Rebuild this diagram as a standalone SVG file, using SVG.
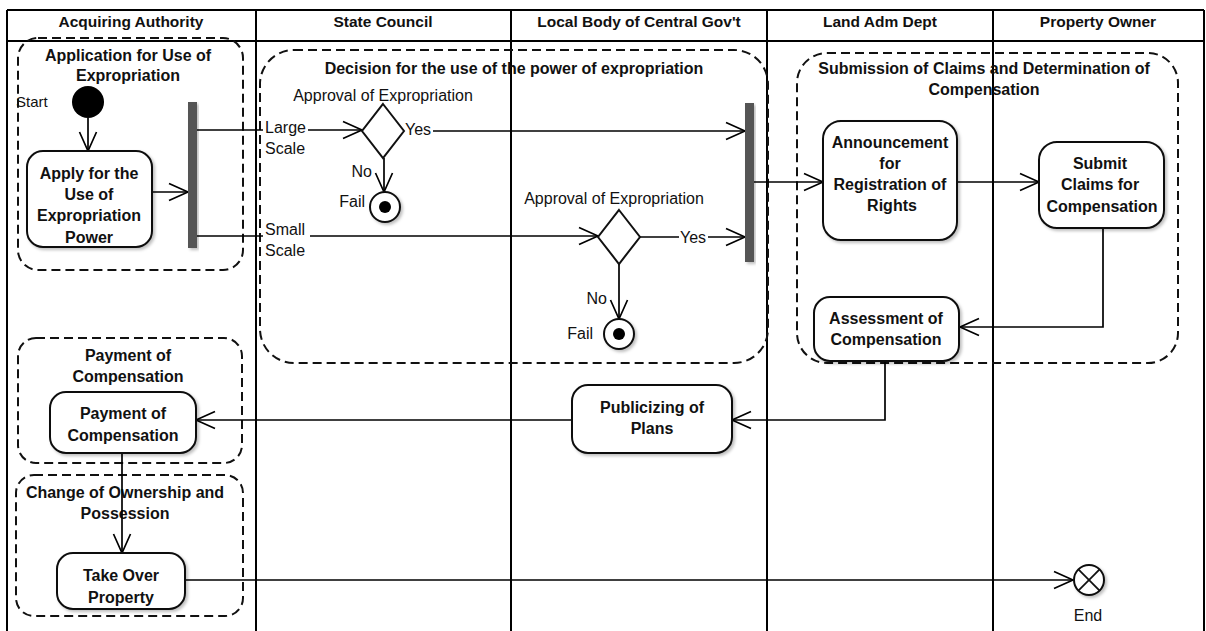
<svg xmlns="http://www.w3.org/2000/svg" width="1206" height="631" viewBox="0 0 1206 631">
  <style>
    .lane { stroke: #000; stroke-width: 2; fill: none; }
    .hdr { font: bold 15.5px "Liberation Sans", Arial, sans-serif; text-anchor: middle; fill: #111; }
    .grp { fill: none; stroke: #111; stroke-width: 2; stroke-dasharray: 9 5; }
    .gtitle { font: bold 16px "Liberation Sans", Arial, sans-serif; text-anchor: middle; fill: #111; }
    .act { fill: #fff; stroke: #111; stroke-width: 2; }
    .atext { font: bold 16px "Liberation Sans", Arial, sans-serif; text-anchor: middle; fill: #111; }
    .lbl { font: 16px "Liberation Sans", Arial, sans-serif; fill: #111; }
    .edge { fill: none; stroke: #000; stroke-width: 1.7; }
    .bar { fill: #555; }
  </style>
  <defs>
    <marker id="arrow" markerUnits="userSpaceOnUse" markerWidth="22" markerHeight="20" viewBox="0 0 22 20" refX="20" refY="10" orient="auto">
      <path d="M1,1.5 L20,10 L1,18.5" fill="none" stroke="#000" stroke-width="1.7"/>
    </marker>
    <filter id="shadow" x="-10%" y="-10%" width="130%" height="130%">
      <feDropShadow dx="2" dy="2" stdDeviation="1.5" flood-color="#000" flood-opacity="0.25"/>
    </filter>
  </defs>

  <rect width="1206" height="631" fill="#fff"/>

  <!-- swimlanes -->
  <g id="lanes">
    <line class="lane" x1="7" y1="10" x2="1204" y2="10"/>
    <line class="lane" x1="7" y1="41" x2="1204" y2="41"/>
    <line class="lane" x1="7" y1="10" x2="7" y2="631"/>
    <line class="lane" x1="256" y1="10" x2="256" y2="631"/>
    <line class="lane" x1="511" y1="10" x2="511" y2="631"/>
    <line class="lane" x1="767" y1="10" x2="767" y2="631"/>
    <line class="lane" x1="993" y1="10" x2="993" y2="631"/>
    <line class="lane" x1="1204" y1="10" x2="1204" y2="631"/>
    <text class="hdr" x="131" y="27">Acquiring Authority</text>
    <text class="hdr" x="383" y="27">State Council</text>
    <text class="hdr" x="639" y="27">Local Body of Central Gov't</text>
    <text class="hdr" x="880" y="27">Land Adm Dept</text>
    <text class="hdr" x="1098" y="27">Property Owner</text>
  </g>

  <!-- activity partitions (dashed groups) -->
  <g id="group-application">
    <rect class="grp" x="18" y="38" width="225" height="232" rx="20"/>
    <text class="gtitle" x="128" y="60.5">Application for Use of</text>
    <text class="gtitle" x="128" y="80.5">Expropriation</text>
  </g>
  <g id="group-decision">
    <rect class="grp" x="260" y="50" width="508" height="313" rx="34"/>
    <text class="gtitle" x="514" y="73.5">Decision for the use of the power of expropriation</text>
  </g>
  <g id="group-claims">
    <rect class="grp" x="797" y="53" width="381" height="310" rx="30"/>
    <text class="gtitle" x="984" y="73.5">Submission of Claims and Determination of</text>
    <text class="gtitle" x="984" y="94.5">Compensation</text>
  </g>
  <g id="group-payment">
    <rect class="grp" x="18" y="338" width="224" height="125" rx="18"/>
    <text class="gtitle" x="128" y="360.5">Payment of</text>
    <text class="gtitle" x="128" y="381.5">Compensation</text>
  </g>
  <g id="group-ownership">
    <rect class="grp" x="16" y="475" width="227" height="141" rx="18"/>
    <text class="gtitle" x="125" y="497.5">Change of Ownership and</text>
    <text class="gtitle" x="125" y="518.5">Possession</text>
  </g>

  <!-- connectors -->
  <g id="connectors">
    <line class="edge" x1="88" y1="118" x2="88" y2="151" marker-end="url(#arrow)"/>
    <line class="edge" x1="152" y1="192" x2="188" y2="192" marker-end="url(#arrow)"/>
    <!-- large scale branch -->
    <line class="edge" x1="197" y1="130" x2="263" y2="130"/>
    <line class="edge" x1="308" y1="130" x2="362" y2="130" marker-end="url(#arrow)"/>
    <!-- small scale branch -->
    <line class="edge" x1="197" y1="236" x2="263" y2="236"/>
    <line class="edge" x1="310" y1="236" x2="598" y2="236" marker-end="url(#arrow)"/>
    <!-- decision 1 -->
    <line class="edge" x1="433" y1="131" x2="745" y2="131" marker-end="url(#arrow)"/>
    <line class="edge" x1="384" y1="158" x2="384" y2="192" marker-end="url(#arrow)"/>
    <!-- decision 2 -->
    <line class="edge" x1="640" y1="237" x2="679" y2="237"/>
    <line class="edge" x1="708" y1="237" x2="745" y2="237" marker-end="url(#arrow)"/>
    <line class="edge" x1="619" y1="264" x2="619" y2="319" marker-end="url(#arrow)"/>
    <!-- land adm / owner flow -->
    <line class="edge" x1="754" y1="182" x2="823" y2="182" marker-end="url(#arrow)"/>
    <line class="edge" x1="957" y1="182" x2="1039" y2="182" marker-end="url(#arrow)"/>
    <polyline class="edge" points="1103,228 1103,327 960,327" marker-end="url(#arrow)"/>
    <polyline class="edge" points="885,361 885,420 732,420" marker-end="url(#arrow)"/>
    <line class="edge" x1="572" y1="420" x2="196" y2="420" marker-end="url(#arrow)"/>
    <line class="edge" x1="122" y1="453" x2="122" y2="553" marker-end="url(#arrow)"/>
    <line class="edge" x1="185" y1="580" x2="1073" y2="580" marker-end="url(#arrow)"/>
    <!-- guard labels -->
    <text class="lbl" x="265" y="132.5">Large</text>
    <text class="lbl" x="265" y="153.5">Scale</text>
    <text class="lbl" x="265" y="234.5">Small</text>
    <text class="lbl" x="265" y="255.5">Scale</text>
    <text class="lbl" x="405" y="134.5">Yes</text>
    <text class="lbl" x="372" y="176.5" text-anchor="end">No</text>
    <text class="lbl" x="680" y="242.5">Yes</text>
    <text class="lbl" x="607" y="303.5" text-anchor="end">No</text>
  </g>

  <!-- nodes -->
  <g id="start">
    <circle cx="88" cy="102" r="16" fill="#000"/>
    <text class="lbl" x="16" y="107" style="font-size:15px">Start</text>
  </g>
  <g id="apply-for-use">
    <rect class="act" x="27" y="151" width="125" height="96" rx="16" filter="url(#shadow)"/>
    <text class="atext" x="89" y="178.5">Apply for the</text>
    <text class="atext" x="89" y="199.5">Use of</text>
    <text class="atext" x="89" y="220.5">Expropriation</text>
    <text class="atext" x="89" y="242.5">Power</text>
  </g>
  <g id="fork-1">
    <rect class="bar" x="188" y="102" width="9" height="146" filter="url(#shadow)"/>
  </g>
  <g id="approval-1">
    <text class="lbl" x="383" y="100.5" text-anchor="middle">Approval of Expropriation</text>
    <polygon points="383,104 404,131 383,158 362,131" fill="#fff" stroke="#111" stroke-width="2"/>
  </g>
  <g id="fail-1">
    <circle cx="385" cy="207" r="15" fill="#fff" stroke="#111" stroke-width="2" filter="url(#shadow)"/>
    <circle cx="385" cy="207" r="6" fill="#000"/>
    <text class="lbl" x="365" y="206.5" text-anchor="end">Fail</text>
  </g>
  <g id="approval-2">
    <text class="lbl" x="614" y="203.5" text-anchor="middle">Approval of Expropriation</text>
    <polygon points="619,210 640,237 619,264 598,237" fill="#fff" stroke="#111" stroke-width="2"/>
  </g>
  <g id="fail-2">
    <circle cx="619" cy="334" r="15" fill="#fff" stroke="#111" stroke-width="2" filter="url(#shadow)"/>
    <circle cx="619" cy="334" r="6" fill="#000"/>
    <text class="lbl" x="593" y="338.5" text-anchor="end">Fail</text>
  </g>
  <g id="join-2">
    <rect class="bar" x="745" y="103" width="9" height="159" filter="url(#shadow)"/>
  </g>
  <g id="announcement">
    <rect class="act" x="823" y="121" width="134" height="119" rx="18" filter="url(#shadow)"/>
    <text class="atext" x="890" y="147.5">Announcement</text>
    <text class="atext" x="890" y="168.5">for</text>
    <text class="atext" x="890" y="190">Registration of</text>
    <text class="atext" x="892" y="211">Rights</text>
  </g>
  <g id="submit-claims">
    <rect class="act" x="1039" y="142" width="125" height="86" rx="18" filter="url(#shadow)"/>
    <text class="atext" x="1100" y="168.5">Submit</text>
    <text class="atext" x="1100" y="189.5">Claims for</text>
    <text class="atext" x="1102" y="211.5">Compensation</text>
  </g>
  <g id="assessment">
    <rect class="act" x="814" y="297" width="145" height="64" rx="16" filter="url(#shadow)"/>
    <text class="atext" x="886" y="323.5">Assessment of</text>
    <text class="atext" x="886" y="344.5">Compensation</text>
  </g>
  <g id="publicizing">
    <rect class="act" x="572" y="385" width="160" height="68" rx="16" filter="url(#shadow)"/>
    <text class="atext" x="652" y="412.5">Publicizing of</text>
    <text class="atext" x="652" y="433.5">Plans</text>
  </g>
  <g id="payment">
    <rect class="act" x="50" y="392" width="146" height="61" rx="16" filter="url(#shadow)"/>
    <text class="atext" x="123" y="418.5">Payment of</text>
    <text class="atext" x="123" y="440.5">Compensation</text>
  </g>
  <g id="take-over">
    <rect class="act" x="57" y="553" width="128" height="56" rx="16" filter="url(#shadow)"/>
    <text class="atext" x="121" y="580.5">Take Over</text>
    <text class="atext" x="121" y="602.5">Property</text>
  </g>
  <g id="end">
    <circle cx="1089" cy="580" r="15" fill="#fff" stroke="#111" stroke-width="2" filter="url(#shadow)"/>
    <line x1="1078.4" y1="569.4" x2="1099.6" y2="590.6" stroke="#111" stroke-width="1.8"/>
    <line x1="1099.6" y1="569.4" x2="1078.4" y2="590.6" stroke="#111" stroke-width="1.8"/>
    <text class="lbl" x="1088" y="620.5" text-anchor="middle">End</text>
  </g>
</svg>
